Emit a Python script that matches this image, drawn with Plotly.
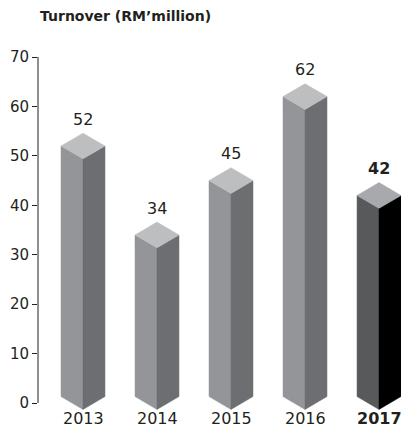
import plotly.graph_objects as go

# ---- data ----
years = ["2013", "2014", "2015", "2016", "2017"]
turnover = [52, 34, 45, 62, 42]
highlight = [False, False, False, False, True]
y_ticks = [0, 10, 20, 30, 40, 50, 60, 70]
title_text = "Turnover (RM’million)"

# ---- style ----
W = 0.297   # half bar width (category units)
D = 2.6     # isometric depth offset (value units)
TXT = "#231f20"
FONT = "DejaVu Sans, sans-serif"
normal = dict(front="#939598", side="#6d6e71", top="#bcbec0")
hot = dict(front="#58595b", side="#000000", top="#a7a9ac")

fig = go.Figure()
for i, (yr, v, hl) in enumerate(zip(years, turnover, highlight)):
    c = hot if hl else normal
    xl, xc, xr = i - W, i, i + W
    faces = [
        ("front", [xl, xl, xc, xc, xl], [D / 2, v, v - D, -D / 2, D / 2]),
        ("side", [xc, xc, xr, xr, xc], [-D / 2, v - D, v, D / 2, -D / 2]),
        ("top", [xl, xc, xr, xc, xl], [v, v + D, v, v - D, v]),
    ]
    for name, xs, ys in faces:
        fig.add_trace(go.Scatter(
            x=xs, y=ys, mode="lines", fill="toself",
            fillcolor=c[name], line=dict(color=c[name], width=0.5),
            hoverinfo="skip", showlegend=False,
        ))
    lab = f"<b>{v}</b>" if hl else str(v)
    fig.add_annotation(x=xc, y=v + D, text=lab, showarrow=False,
                       yanchor="middle", yshift=14,
                       font=dict(size=16, color=TXT, family=FONT))
    ylab = f"<b>{yr}</b>" if hl else yr
    fig.add_annotation(x=xc, y=0, text=ylab, showarrow=False,
                       yanchor="middle", yshift=-15,
                       font=dict(size=16, color=TXT, family=FONT))

fig.add_annotation(xref="paper", yref="paper", x=0, y=1, xanchor="left",
                   yanchor="middle", yshift=16.5, showarrow=False,
                   text=f"<b>{title_text}</b>",
                   font=dict(size=14, color=TXT, family=FONT))

# y axis line from 0 to top tick
fig.add_shape(type="line", xref="paper", yref="y", x0=0, x1=0,
              y0=y_ticks[0], y1=y_ticks[-1],
              line=dict(color=TXT, width=1))

fig.update_layout(
    width=401, height=427, autosize=False,
    margin=dict(l=38, r=0, t=32, b=17),
    paper_bgcolor="white", plot_bgcolor="white",
    xaxis=dict(range=[-0.608, 4.297], showticklabels=False, showgrid=False,
               zeroline=False, showline=False, ticks=""),
    yaxis=dict(range=[-1.416, 75.06], tickvals=y_ticks, ticks="outside",
               ticklen=5, tickcolor=TXT, showgrid=False, zeroline=False,
               showline=False, tickfont=dict(size=15, color=TXT, family=FONT)),
    font=dict(family=FONT, color=TXT),
)

fig.write_html("out.html")
